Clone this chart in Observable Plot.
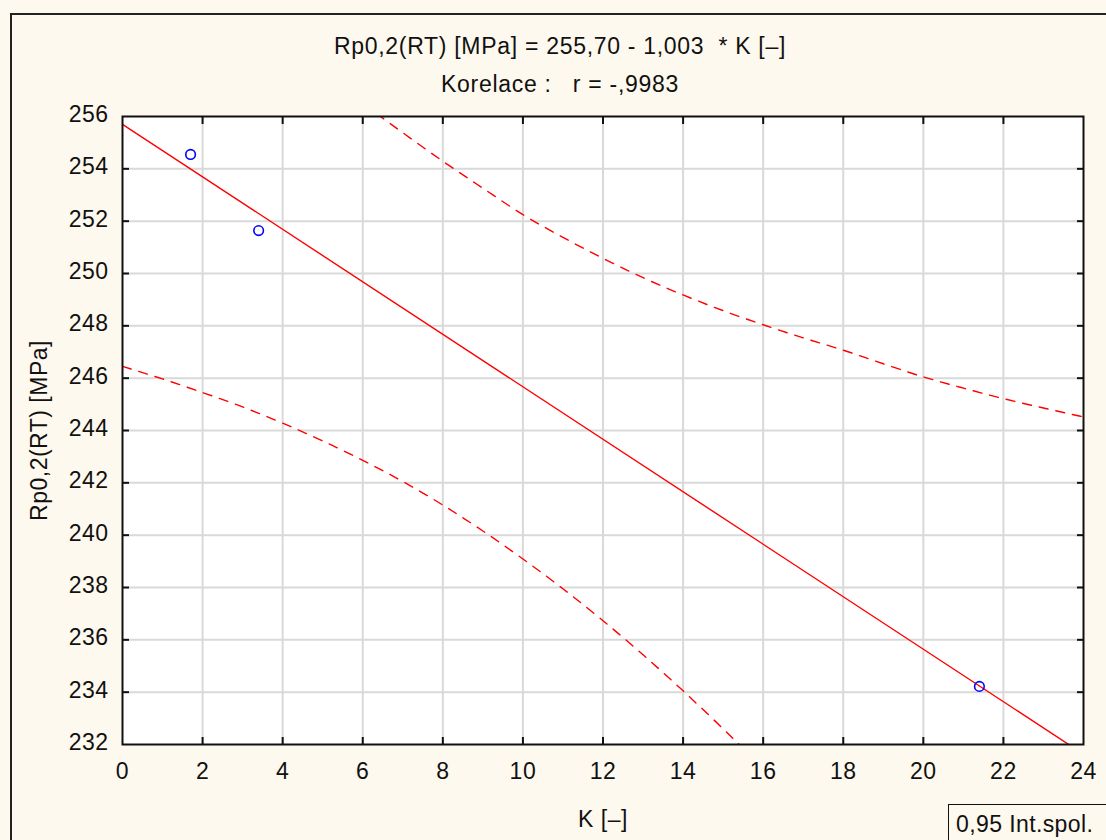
<!DOCTYPE html>
<html>
<head>
<meta charset="utf-8">
<script src="https://cdn.jsdelivr.net/npm/d3@7"></script>
<script src="https://cdn.jsdelivr.net/npm/@observablehq/plot@0.6"></script>
<style>
  html, body { margin: 0; padding: 0; background: #fef9ee; }
  #wrap { position: relative; width: 1106px; height: 840px; overflow: hidden; background: #fef9ee;
          font-family: "Liberation Sans", Arial, sans-serif; color: #111; }
  #border { position: absolute; left: 10px; top: 13px; width: 1200px; height: 900px;
            border: 2px solid #222; box-sizing: border-box; }
  #chart { position: absolute; left: 0; top: 0; }
  .t { position: absolute; left: 0; width: 1120px; text-align: center; white-space: pre;
       font-size: 23px; line-height: 23px; letter-spacing: 0.7px; }
  #legend { position: absolute; left: 948px; top: 804px; width: 200px; height: 60px;
            border: 1.5px solid #111; box-sizing: border-box; background: #fef9ee; }
  #legend span { position: absolute; left: 7px; top: 8px; font-size: 23px; line-height: 23px;
                 letter-spacing: 0.4px; white-space: pre; }
</style>
</head>
<body>
<div id="wrap">
  <div id="border"></div>
  <div id="chart"></div>
  <div class="t" id="title" style="top:35px"></div>
  <div class="t" id="subtitle" style="top:73px"></div>
  <div id="legend"><span id="legendText"></span></div>
</div>
<script>
// ---- texts ----
const titleText = "Rp0,2(RT) [MPa] = 255,70 - 1,003  * K [–]";
const subtitleText = "Korelace :   r = -,9983";
const xLabel = "K [–]";
const yLabel = "Rp0,2(RT) [MPa]";
const legendLabel = "0,95 Int.spol.";

// ---- ticks ----
const xTicks = [0, 2, 4, 6, 8, 10, 12, 14, 16, 18, 20, 22, 24];
const yTicks = [232, 234, 236, 238, 240, 242, 244, 246, 248, 250, 252, 254, 256];

// ---- observed points ----
const pointK = [1.70, 3.40, 21.40];
const pointRp = [254.55, 251.64, 234.22];

// ---- regression line (endpoints) ----
const fitK = [0, 24];
const fitRp = [255.70, 231.63];

// ---- 0,95 confidence band, upper ----
const upperK = [6, 7, 8, 9, 10, 11, 12, 13, 14, 15, 16, 17, 18, 19, 20, 21, 22, 23, 24];
const upperRp = [256.50, 255.38, 254.29, 253.26, 252.25, 251.38, 250.58, 249.84, 249.18, 248.58, 248.04,
                 247.54, 247.07, 246.55, 246.05, 245.62, 245.22, 244.86, 244.52];

// ---- 0,95 confidence band, lower ----
const lowerK = [0, 1, 2, 3, 4, 5, 6, 7, 8, 9, 10, 11, 12, 13, 14, 15, 16];
const lowerRp = [246.45, 245.97, 245.45, 244.90, 244.28, 243.60, 242.86, 242.05, 241.15, 240.16, 239.09,
                 237.95, 236.73, 235.43, 234.05, 232.60, 231.08];

const toRows = (ks, vs) => ks.map((k, i) => ({k, v: vs[i]}));
const points = toRows(pointK, pointRp);
const fit = toRows(fitK, fitRp);
const upper = toRows(upperK, upperRp);
const lower = toRows(lowerK, lowerRp);

const inner = xTicks.slice(1, -1);
const innerY = yTicks.slice(1, -1);
const blank = () => "";

const chart = Plot.plot({
  width: 1106,
  height: 840,
  marginLeft: 122,
  marginRight: 23,
  marginTop: 116,
  marginBottom: 96,
  style: {background: "transparent", fontFamily: "Liberation Sans, Arial, sans-serif",
          fontSize: "23px", color: "#111", letterSpacing: "0.5px"},
  x: {domain: [0, 24]},
  y: {domain: [232, 256]},
  marks: [
    Plot.frame({fill: "white"}),
    Plot.gridX(inner, {stroke: "#d9d9d9", strokeOpacity: 1, strokeWidth: 2}),
    Plot.gridY(innerY, {stroke: "#d9d9d9", strokeOpacity: 1, strokeWidth: 2}),
    Plot.line(lower, {x: "k", y: "v", stroke: "#ff0000", strokeWidth: 1.4, strokeDasharray: "9,8", curve: "monotone-x", clip: true}),
    Plot.line(upper, {x: "k", y: "v", stroke: "#ff0000", strokeWidth: 1.4, strokeDasharray: "9,8", curve: "monotone-x", clip: true}),
    Plot.line(fit, {x: "k", y: "v", stroke: "#ff0000", strokeWidth: 1.4, clip: true}),
    Plot.dot(points, {x: "k", y: "v", r: 4.8, stroke: "#0000ff", strokeWidth: 1.6, fill: "none"}),
    Plot.frame({stroke: "#111", strokeWidth: 2}),
    Plot.axisX(xTicks, {anchor: "bottom", tickSize: 0, tickPadding: 18, tickFormat: d => String(d),
                        label: xLabel, labelAnchor: "center", labelOffset: 82, labelArrow: "none"}),
    Plot.axisY(yTicks, {anchor: "left", tickSize: 0, tickPadding: 14, tickFormat: d => String(d), dy: -2,
                        label: yLabel, labelAnchor: "center", labelOffset: 92, labelArrow: "none"}),
    Plot.axisX(inner, {anchor: "bottom", tickSize: -7, tickFormat: blank, label: null, stroke: "#111", strokeWidth: 2}),
    Plot.axisX(inner, {anchor: "top", tickSize: -7, tickFormat: blank, label: null, stroke: "#111", strokeWidth: 2}),
    Plot.axisY(innerY, {anchor: "left", tickSize: -7, tickFormat: blank, label: null, stroke: "#111", strokeWidth: 2}),
    Plot.axisY(innerY, {anchor: "right", tickSize: -7, tickFormat: blank, label: null, stroke: "#111", strokeWidth: 2})
  ]
});
document.getElementById("chart").appendChild(chart);
document.getElementById("title").textContent = titleText;
document.getElementById("subtitle").textContent = subtitleText;
document.getElementById("legendText").textContent = legendLabel;
</script>
</body>
</html>
